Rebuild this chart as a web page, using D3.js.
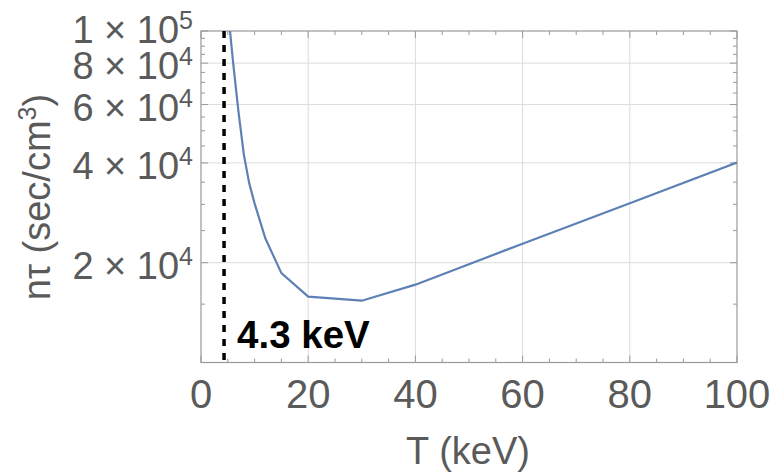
<!DOCTYPE html>
<html>
<head>
<meta charset="utf-8">
<script src="https://cdn.jsdelivr.net/npm/d3@7"></script>
<style>
  body { margin: 0; background: #fff; }
  svg text { font-family: "Liberation Sans", Arial, sans-serif; }
</style>
</head>
<body>
<div class="chart"></div>
<script>
// Data
const temps = [5, 6, 7, 8, 9, 10, 12, 15, 20, 30, 40, 60, 80, 100];
const ntau = [117000, 80000, 56900, 42300, 34700, 30200, 23700, 18600, 15800, 15360, 17170, 22820, 30240, 40130];
const xTicks = [0, 20, 40, 60, 80, 100];
const yTicks = [
  { v: 1e5, m: "1", e: "5" },
  { v: 8e4, m: "8", e: "4" },
  { v: 6e4, m: "6", e: "4" },
  { v: 4e4, m: "4", e: "4" },
  { v: 2e4, m: "2", e: "4" }
];
const ignition = 4.3;

const width = 773, height = 473;
const margin = { top: 31, right: 36, bottom: 110.5, left: 201 };

const svg = d3.select(".chart")
  .append("svg")
  .attr("width", width)
  .attr("height", height);

const xScale = d3.scaleLinear()
  .domain([0, 100])
  .range([margin.left, width - margin.right]);
const yScale = d3.scaleLog()
  .domain([1e4, 1e5])
  .range([height - margin.bottom, margin.top]);

const x0 = xScale.range()[0], x1 = xScale.range()[1];
const y0 = yScale.range()[0], y1 = yScale.range()[1];

// grid lines
svg.append("g")
  .selectAll("line")
  .data(xTicks.slice(1, -1))
  .join("line")
  .attr("x1", d => xScale(d)).attr("x2", d => xScale(d))
  .attr("y1", y1).attr("y2", y0)
  .attr("stroke", "#dcdcdc").attr("stroke-width", 1);
svg.append("g")
  .selectAll("line")
  .data(yTicks.slice(1).map(d => d.v))
  .join("line")
  .attr("x1", x0).attr("x2", x1)
  .attr("y1", d => yScale(d)).attr("y2", d => yScale(d))
  .attr("stroke", "#dcdcdc").attr("stroke-width", 1);

// frame ticks (inward, on all four sides)
const xMinor = d3.range(0, 101, 5);
const yMinor = d3.range(10000, 100001, 5000);
const tickCol = "#999";
const ticks = svg.append("g").attr("stroke", tickCol).attr("stroke-width", 1);
xMinor.forEach(d => {
  const len = d % 20 === 0 ? 7 : 4;
  const x = xScale(d);
  ticks.append("line").attr("x1", x).attr("x2", x).attr("y1", y0).attr("y2", y0 - len);
  ticks.append("line").attr("x1", x).attr("x2", x).attr("y1", y1).attr("y2", y1 + len);
});
yMinor.forEach(d => {
  const len = d % 20000 === 0 ? 7 : 4;
  const y = yScale(d);
  ticks.append("line").attr("x1", x0).attr("x2", x0 + len).attr("y1", y).attr("y2", y);
  ticks.append("line").attr("x1", x1).attr("x2", x1 - len).attr("y1", y).attr("y2", y);
});

svg.append("rect")
  .attr("x", x0).attr("y", y1)
  .attr("width", x1 - x0).attr("height", y0 - y1)
  .attr("fill", "none").attr("stroke", tickCol).attr("stroke-width", 1.2);

// curve
svg.append("clipPath").attr("id", "clip")
  .append("rect")
  .attr("x", x0).attr("y", y1)
  .attr("width", x1 - x0).attr("height", y0 - y1);

const line = d3.line()
  .x((d, i) => xScale(temps[i]))
  .y(d => yScale(d));

svg.append("path")
  .datum(ntau)
  .attr("clip-path", "url(#clip)")
  .attr("d", line)
  .attr("fill", "none")
  .attr("stroke", "#5e81b5")
  .attr("stroke-width", 2.2);

// ignition temperature marker
svg.append("line")
  .attr("x1", xScale(ignition)).attr("x2", xScale(ignition))
  .attr("y1", y1).attr("y2", y0 + 4)
  .attr("stroke", "#000")
  .attr("stroke-width", 3.5)
  .attr("stroke-dasharray", "7,7");

svg.append("text")
  .attr("x", xScale(ignition) + 13)
  .attr("y", 348)
  .attr("font-size", 38.5)
  .attr("font-weight", "bold")
  .attr("fill", "#000")
  .text(ignition + " keV");

// x tick labels
svg.append("g")
  .selectAll("text")
  .data(xTicks)
  .join("text")
  .attr("x", d => xScale(d))
  .attr("y", 408)
  .attr("text-anchor", "middle")
  .attr("font-size", 40)
  .attr("fill", "#5a5a5a")
  .text(d => d);

// y tick labels
const yl = svg.append("g")
  .selectAll("text")
  .data(yTicks)
  .join("text")
  .attr("x", 193)
  .attr("y", (d, i) => yScale(d.v) + (i === 0 ? 12 : 16))
  .attr("text-anchor", "end")
  .attr("font-size", 38)
  .attr("fill", "#5a5a5a");
yl.append("tspan").text(d => d.m + " \u00d7 10");
yl.append("tspan")
  .attr("font-size", 25)
  .attr("dy", -14)
  .text(d => d.e);

// axis titles
svg.append("text")
  .attr("x", 468)
  .attr("y", 464)
  .attr("text-anchor", "middle")
  .attr("font-size", 38)
  .attr("fill", "#5a5a5a")
  .text("T (keV)");

const yt = svg.append("text")
  .attr("transform", "translate(50,197) rotate(-90)")
  .attr("text-anchor", "middle")
  .attr("font-size", 38)
  .attr("fill", "#5a5a5a");
yt.append("tspan").text("n\u03c4 (sec/cm");
yt.append("tspan").attr("font-size", 25).attr("dy", -14).text("3");
yt.append("tspan").attr("dy", 14).text(")");
</script>
</body>
</html>
